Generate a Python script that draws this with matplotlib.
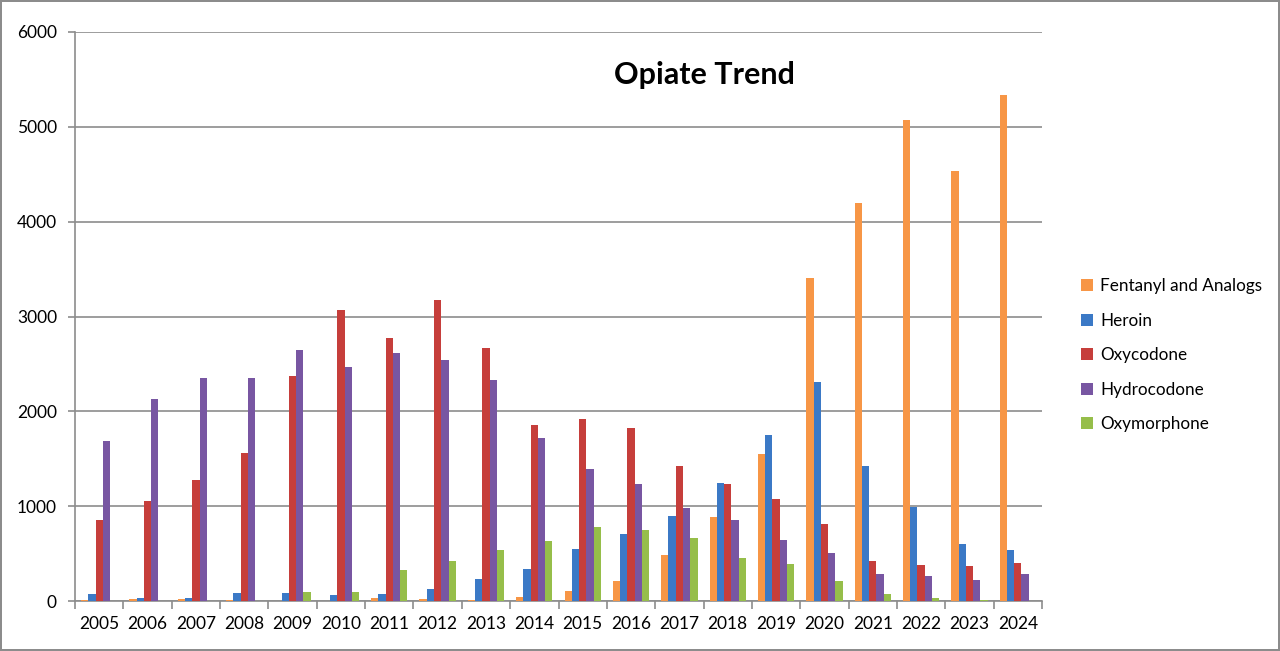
import numpy as np
import matplotlib
matplotlib.use("Agg")
import matplotlib.pyplot as plt
from matplotlib.patches import Patch

years = [str(y) for y in range(2005, 2025)]
fentanyl = [10, 17, 17, 8, 5, 3, 30, 20, 10, 39, 105, 211, 488, 886, 1549, 3406, 4192, 5068, 4537, 5331]
heroin = [74, 35, 35, 88, 80, 60, 70, 127, 232, 334, 548, 707, 896, 1243, 1750, 2314, 1427, 995, 601, 541]
oxycodone = [857, 1055, 1278, 1565, 2374, 3070, 2774, 3169, 2671, 1853, 1916, 1827, 1426, 1236, 1076, 815, 422, 376, 369, 401]
hydrocodone = [1688, 2128, 2350, 2352, 2648, 2467, 2614, 2542, 2331, 1716, 1391, 1235, 981, 854, 640, 506, 281, 264, 221, 281]
oxymorphone = [0, 0, 0, 5, 90, 90, 328, 420, 541, 633, 784, 749, 664, 453, 393, 211, 74, 32, 8, 0]

series = [
    ("Fentanyl and Analogs", fentanyl, "#F79646"),
    ("Heroin", heroin, "#3B79C6"),
    ("Oxycodone", oxycodone, "#C63E3B"),
    ("Hydrocodone", hydrocodone, "#7856A2"),
    ("Oxymorphone", oxymorphone, "#96BE4A"),
]

plt.rcParams["font.family"] = ["Lato", "DejaVu Sans"]
grid_c = "#8C8C8C"

fig = plt.figure(figsize=(12.8, 6.51), dpi=100, facecolor="white",
                 edgecolor="#8C8C8C", linewidth=1.5)
ax = fig.add_axes([75 / 1280, 50 / 651, 967 / 1280, 569 / 651])

x = np.arange(len(years))
w = 0.15
for k, (name, vals, col) in enumerate(series):
    ax.bar(x + (k - 2) * w, vals, width=w, color=col, zorder=3)

ax.set_xlim(-0.5, len(years) - 0.5)
ax.set_ylim(0, 6000)
ax.set_yticks(range(0, 6001, 1000))
ax.yaxis.grid(True, color=grid_c, linewidth=1.2, zorder=0)

# category ticks sit between the groups, labels in the middle
ax.set_xticks(np.arange(-0.5, len(years)), minor=False)
ax.set_xticklabels([])
ax.set_xticks(x, minor=True)
ax.set_xticklabels(years, minor=True)
ax.tick_params(axis="x", which="major", direction="out", length=6, color=grid_c, width=1.2)
ax.tick_params(axis="x", which="minor", length=0, pad=11, labelsize=12.5)
ax.tick_params(axis="y", direction="out", length=5, color=grid_c, width=1.2, pad=8, labelsize=12.5)

for s in ["top", "right"]:
    ax.spines[s].set_visible(False)
for s in ["left", "bottom"]:
    ax.spines[s].set_color(grid_c)
    ax.spines[s].set_linewidth(1.2)

fig.text(704 / 1280, 1 - 75 / 651, "Opiate Trend", ha="center", va="center",
         fontsize=22, fontweight="bold")

handles = [Patch(facecolor=c, label=n) for n, _, c in series]
fig.legend(handles=handles, loc="upper left", bbox_to_anchor=(1066 / 1280, 1 - 263 / 651),
           frameon=False, fontsize=12.3, handlelength=0.7, handleheight=0.7,
           handletextpad=0.4, labelspacing=1.08)

fig.savefig("out.png", dpi=100, facecolor=fig.get_facecolor(), edgecolor=fig.get_edgecolor())
